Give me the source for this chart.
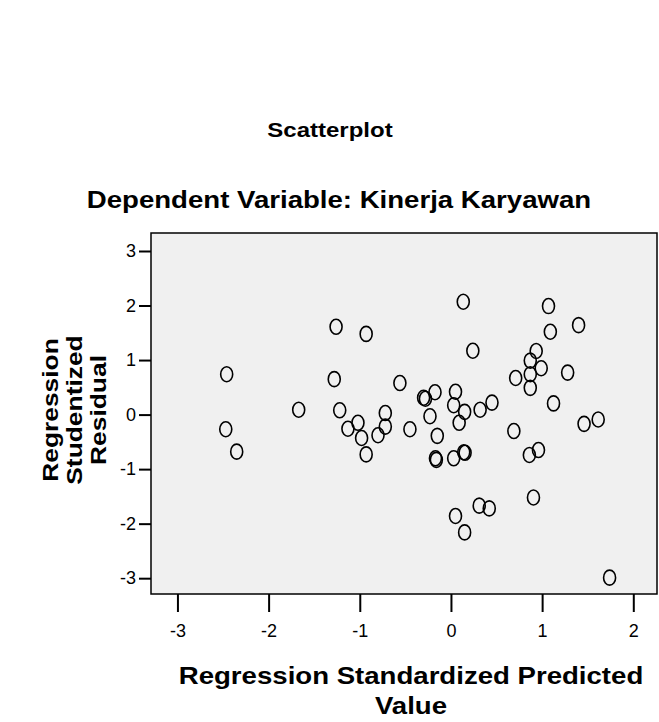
<!DOCTYPE html>
<html>
<head>
<meta charset="utf-8">
<script src="https://cdn.jsdelivr.net/npm/d3@7"></script>
<style>
  html, body { margin: 0; padding: 0; background: #ffffff; }
  svg text { font-family: "Liberation Sans", Arial, sans-serif; }
</style>
</head>
<body>
<div id="chart"></div>
<script>
"use strict";

// Regression Standardized Predicted Value (x) per case
var predicted = [
  -2.46, -2.47, -2.35, -1.67, -1.26, -0.93, -1.28, -1.22, -1.13, -1.02,
  -0.98, -0.93, -0.80, -0.72, -0.72, -0.56, 0.135, 1.07, 1.40, 1.09,
  0.24, 0.935, 0.87, 0.99, 0.87, 0.71, 1.28, 0.87, 1.125, -0.45,
  -0.30, -0.28, -0.175, -0.23, 0.05, 0.03, 0.15, 0.09, 0.32, 0.45,
  -0.15, 0.69, 1.46, 1.615, -0.17, -0.16, 0.03, 0.14, 0.155, 0.86,
  0.96, 0.905, 0.31, 0.42, 0.05, 0.15, 1.74
];

// Regression Studentized Residual (y) per case
var residual = [
  0.74, -0.27, -0.68, 0.09, 1.61, 1.48, 0.65, 0.08, -0.26, -0.15,
  -0.43, -0.73, -0.38, 0.03, -0.22, 0.58, 2.07, 1.99, 1.64, 1.52,
  1.17, 1.165, 0.99, 0.85, 0.74, 0.67, 0.77, 0.49, 0.205, -0.27,
  0.31, 0.29, 0.41, -0.03, 0.42, 0.17, 0.05, -0.15, 0.09, 0.22,
  -0.39, -0.30, -0.17, -0.09, -0.80, -0.83, -0.80, -0.69, -0.70, -0.74,
  -0.65, -1.52, -1.67, -1.72, -1.86, -2.16, -2.99
];

var xTicks = [-3, -2, -1, 0, 1, 2];
var yTicks = [-3, -2, -1, 0, 1, 2, 3];

var chartTitle = "Scatterplot";
var chartSubtitle = "Dependent Variable: Kinerja Karyawan";
var xTitleLines = ["Regression Standardized Predicted", "Value"];
var yTitleLines = ["Regression", "Studentized", "Residual"];

var width = 659,
  height = 722;
var box = { left: 151, right: 657, top: 233, bottom: 594 };
// the chart's bold labels are drawn a bit wider than the font itself
var titleStretch = 1.2;

var svg = d3
  .select("#chart")
  .append("svg")
  .attr("width", width)
  .attr("height", height);

var x = d3
  .scaleLinear()
  .domain([-3.29, 2.26])
  .range([box.left, box.right]);

var y = d3
  .scaleLinear()
  .domain([-3.29, 3.33])
  .range([box.bottom, box.top]);

function boldLabel(parent, str, cx, cy, size) {
  return parent
    .append("text")
    .attr(
      "transform",
      "translate(" + cx + "," + cy + ") scale(" + titleStretch + ",1)"
    )
    .attr("text-anchor", "middle")
    .style("font-weight", "bold")
    .style("font-size", size + "px")
    .text(str);
}

// titles
boldLabel(svg, chartTitle, 330, 137, 20);
boldLabel(svg, chartSubtitle, 339, 208, 23);

// plot area
svg
  .append("rect")
  .attr("x", box.left)
  .attr("y", box.top)
  .attr("width", box.right - box.left)
  .attr("height", box.bottom - box.top)
  .style("fill", "#f0f0f0")
  .style("stroke", "#000")
  .style("stroke-width", 1.5);

// axes
var xAxis = svg
  .append("g")
  .attr("transform", "translate(0," + box.bottom + ")")
  .call(
    d3
      .axisBottom(x)
      .tickValues(xTicks)
      .tickSize(18)
      .tickPadding(12)
      .tickFormat(d3.format("d"))
  );

var yAxis = svg
  .append("g")
  .attr("transform", "translate(" + box.left + ",0)")
  .call(
    d3
      .axisLeft(y)
      .tickValues(yTicks)
      .tickSize(12)
      .tickPadding(3)
      .tickFormat(d3.format("d"))
  );

[xAxis, yAxis].forEach(function(g) {
  g.select(".domain").remove();
  g.selectAll(".tick line").style("stroke", "#000").style("stroke-width", 2);
  g
    .selectAll(".tick text")
    .style("font-size", "18px")
    .style("fill", "#000")
    .text(function(d) {
      return d < 0 ? "-" + Math.abs(d) : d;
    });
});

// axis titles
xTitleLines.forEach(function(line, i) {
  boldLabel(svg, line, 411, 684 + i * 30, 23);
});

var yTitle = svg
  .append("g")
  .attr("transform", "translate(0,410) rotate(-90)");
yTitleLines.forEach(function(line, i) {
  boldLabel(yTitle, line, 0, 58 + i * 24, 22);
});

// points
svg
  .append("g")
  .selectAll("ellipse")
  .data(predicted)
  .enter()
  .append("ellipse")
  .attr("cx", function(d) {
    return x(d);
  })
  .attr("cy", function(d, i) {
    return y(residual[i]);
  })
  .attr("rx", 6)
  .attr("ry", 7.5)
  .style("fill", "none")
  .style("stroke", "#000")
  .style("stroke-width", 1.6);
</script>
</body>
</html>
